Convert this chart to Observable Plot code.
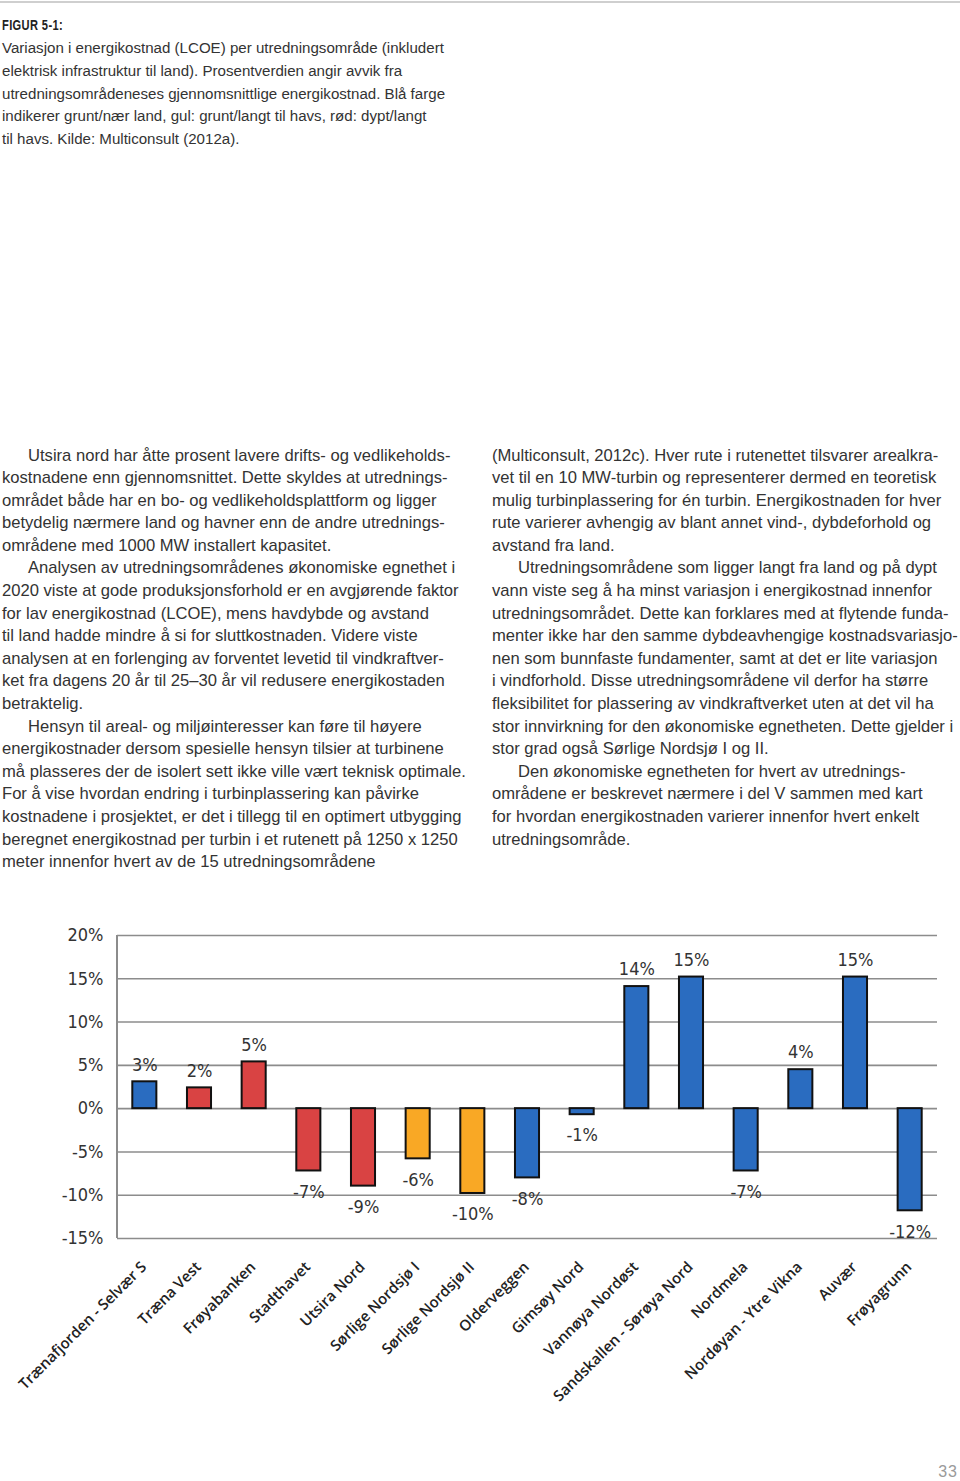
<!DOCTYPE html>
<html lang="no">
<head>
<meta charset="utf-8">
<script src="https://cdn.jsdelivr.net/npm/d3@7"></script>
<script src="https://cdn.jsdelivr.net/npm/@observablehq/plot@0.6"></script>
<style>
  html, body { margin: 0; padding: 0; background: #fff; }
  body { width: 960px; height: 1481px; position: relative; overflow: hidden; font-family: "Liberation Sans", Arial, sans-serif; color: #333; }
  .topline { position: absolute; left: 0; top: 1px; width: 960px; height: 2px; background: #cfcfcf; }
  .figlabel { position: absolute; left: 2px; top: 16px; font-family: "Liberation Sans", sans-serif; font-weight: bold; font-size: 15px; color: #222; letter-spacing: 0.5px; transform: scaleX(0.74); transform-origin: 0 0; white-space: nowrap; }
  .caption { position: absolute; left: 2px; top: 37px; font-size: 15.1px; line-height: 22.75px; color: #333; }
  .col { position: absolute; top: 444.5px; font-size: 16.6px; line-height: 22.6px; color: #333; }
  .col div, .caption div { white-space: nowrap; }
  .ind { padding-left: 26px; }
  #left { left: 2px; }
  #right { left: 492px; }
  #chart { position: absolute; left: 0; top: 910px; }
  .pageno { position: absolute; right: 2px; top: 1463px; font-size: 16px; color: #9a9a9a; letter-spacing: 1px; }
</style>
</head>
<body>
<div class="topline"></div>
<div class="figlabel">FIGUR 5-1:</div>
<div class="caption">
  <div>Variasjon i energikostnad (LCOE) per utredningsområde (inkludert</div>
  <div>elektrisk infrastruktur til land). Prosentverdien angir avvik fra</div>
  <div>utredningsområdeneses gjennomsnittlige energikostnad. Blå farge</div>
  <div>indikerer grunt/nær land, gul: grunt/langt til havs, rød: dypt/langt</div>
  <div>til havs. Kilde: Multiconsult (2012a).</div>
</div>
<div class="col" id="left">
  <div class="ind">Utsira nord har åtte prosent lavere drifts- og vedlikeholds-</div>
  <div>kostnadene enn gjennomsnittet. Dette skyldes at utrednings-</div>
  <div>området både har en bo- og vedlikeholdsplattform og ligger</div>
  <div>betydelig nærmere land og havner enn de andre utrednings-</div>
  <div>områdene med 1000 MW installert kapasitet.</div>
  <div class="ind">Analysen av utredningsområdenes økonomiske egnethet i</div>
  <div>2020 viste at gode produksjonsforhold er en avgjørende faktor</div>
  <div>for lav energikostnad (LCOE), mens havdybde og avstand</div>
  <div>til land hadde mindre å si for sluttkostnaden. Videre viste</div>
  <div>analysen at en forlenging av forventet levetid til vindkraftver-</div>
  <div>ket fra dagens 20 år til 25–30 år vil redusere energikostaden</div>
  <div>betraktelig.</div>
  <div class="ind">Hensyn til areal- og miljøinteresser kan føre til høyere</div>
  <div>energikostnader dersom spesielle hensyn tilsier at turbinene</div>
  <div>må plasseres der de isolert sett ikke ville vært teknisk optimale.</div>
  <div>For å vise hvordan endring i turbinplassering kan påvirke</div>
  <div>kostnadene i prosjektet, er det i tillegg til en optimert utbygging</div>
  <div>beregnet energikostnad per turbin i et rutenett på 1250 x 1250</div>
  <div>meter innenfor hvert av de 15 utredningsområdene</div>
</div>
<div class="col" id="right">
  <div>(Multiconsult, 2012c). Hver rute i rutenettet tilsvarer arealkra-</div>
  <div>vet til en 10 MW-turbin og representerer dermed en teoretisk</div>
  <div>mulig turbinplassering for én turbin. Energikostnaden for hver</div>
  <div>rute varierer avhengig av blant annet vind-, dybdeforhold og</div>
  <div>avstand fra land.</div>
  <div class="ind">Utredningsområdene som ligger langt fra land og på dypt</div>
  <div>vann viste seg å ha minst variasjon i energikostnad innenfor</div>
  <div>utredningsområdet. Dette kan forklares med at flytende funda-</div>
  <div>menter ikke har den samme dybdeavhengige kostnadsvariasjo-</div>
  <div>nen som bunnfaste fundamenter, samt at det er lite variasjon</div>
  <div>i vindforhold. Disse utredningsområdene vil derfor ha større</div>
  <div>fleksibilitet for plassering av vindkraftverket uten at det vil ha</div>
  <div>stor innvirkning for den økonomiske egnetheten. Dette gjelder i</div>
  <div>stor grad også Sørlige Nordsjø I og II.</div>
  <div class="ind">Den økonomiske egnetheten for hvert av utrednings-</div>
  <div>områdene er beskrevet nærmere i del V sammen med kart</div>
  <div>for hvordan energikostnaden varierer innenfor hvert enkelt</div>
  <div>utredningsområde.</div>
</div>
<div id="chart"></div>
<div class="pageno">33</div>
<script>
// ---- data ----
const areas = [
  "Trænafjorden - Selvær S", "Træna Vest", "Frøyabanken", "Stadthavet", "Utsira Nord",
  "Sørlige Nordsjø I", "Sørlige Nordsjø II", "Olderveggen", "Gimsøy Nord", "Vannøya Nordøst",
  "Sandskallen - Sørøya Nord", "Nordmela", "Nordøyan - Ytre Vikna", "Auvær", "Frøyagrunn"
];
const values = [3.1, 2.4, 5.4, -7.2, -8.95, -5.8, -9.8, -8.0, -0.7, 14.1, 15.2, -7.2, 4.5, 15.2, -11.8];
const valueLabels = ["3%", "2%", "5%", "-7%", "-9%", "-6%", "-10%", "-8%", "-1%", "14%", "15%", "-7%", "4%", "15%", "-12%"];
const classes = ["grunt/nær land", "dypt/langt til havs", "dypt/langt til havs", "dypt/langt til havs", "dypt/langt til havs",
  "grunt/langt til havs", "grunt/langt til havs", "grunt/nær land", "grunt/nær land", "grunt/nær land",
  "grunt/nær land", "grunt/nær land", "grunt/nær land", "grunt/nær land", "grunt/nær land"];
const classDomain = ["grunt/nær land", "grunt/langt til havs", "dypt/langt til havs"];
const classColors = ["#2a6cc0", "#f9a825", "#d94343"];
const yTicks = [-15, -10, -5, 0, 5, 10, 15, 20];

const data = areas.map((a, i) => ({area: a, value: values[i], label: valueLabels[i], cls: classes[i]}));
const pos = data.filter(d => d.value >= 0);
const neg = data.filter(d => d.value < 0);

const gridColor = "#8c8c8c";
const numFont = { fontFamily: "'DejaVu Sans Condensed', 'DejaVu Sans', sans-serif", fontSize: 18 };

const chart = Plot.plot({
  width: 960,
  height: 500,
  marginTop: 25,
  marginBottom: 172,
  marginLeft: 117,
  marginRight: 23,
  style: { background: "#fff", color: "#333" },
  x: { domain: areas, paddingInner: 0.56, paddingOuter: 0.28, round: false, label: null },
  y: { domain: [-15, 20], label: null },
  color: { domain: classDomain, range: classColors },
  marks: [
    Plot.gridY(yTicks, { stroke: gridColor, strokeOpacity: 1, strokeWidth: 1.6 }),
    // left vertical axis line drawn from the y scale
    (index, scales, values, dims) => {
      const x0 = dims.marginLeft;
      const g = d3.create("svg:line")
        .attr("x1", x0).attr("x2", x0)
        .attr("y1", scales.y(20)).attr("y2", scales.y(-15))
        .attr("stroke", gridColor).attr("stroke-width", 2);
      return g.node();
    },
    Plot.barY(data, { x: "area", y: "value", fill: "cls", stroke: "#111", strokeWidth: 2 }),
    Plot.text(pos, { x: "area", y: "value", text: "label", dy: -17, fill: "#333", ...numFont, letterSpacing: -1.5 }),
    Plot.text(neg, { x: "area", y: "value", text: "label", dy: 21, fill: "#333", ...numFont, letterSpacing: -1.5 }),
    Plot.axisY(yTicks, { tickSize: 0, tickPadding: 14, tickFormat: d => d + "%", label: null, fill: "#333", ...numFont, letterSpacing: -1.5 }),
    Plot.axisX({ tickSize: 0, tickPadding: 26, tickRotate: -45, textAnchor: "end", label: null, fontFamily: "'Open Sans', sans-serif", fontWeight: 600, fontSize: 15, fill: "#222", dx: -1 })
  ]
});
document.getElementById("chart").appendChild(chart);
</script>
</body>
</html>
